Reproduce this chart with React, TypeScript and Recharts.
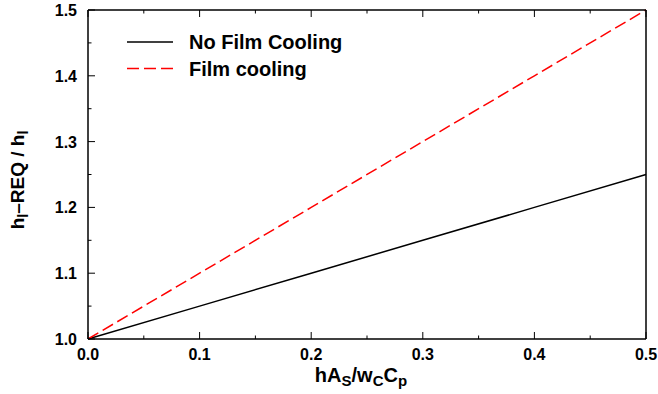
import { LineChart, Line, XAxis, YAxis } from "recharts"

const xValues = [0, 0.1, 0.2, 0.3, 0.4, 0.5]
const noFilmCooling = [1.0, 1.05, 1.1, 1.15, 1.2, 1.25]
const filmCooling = [1.0, 1.1, 1.2, 1.3, 1.4, 1.5]
const xTicks = [0, 0.05, 0.1, 0.15, 0.2, 0.25, 0.3, 0.35, 0.4, 0.45, 0.5]
const yTicks = [1.0, 1.05, 1.1, 1.15, 1.2, 1.25, 1.3, 1.35, 1.4, 1.45, 1.5]

const data = xValues.map((x, i) => ({ x, noFilm: noFilmCooling[i], film: filmCooling[i] }))

const FONT = "'Liberation Sans', Arial, sans-serif"

const isMajor = (v: number) => Math.abs(v * 10 - Math.round(v * 10)) < 1e-6

function XTick({ x, y, payload, side }: any) {
  const major = isMajor(payload.value)
  const len = major ? 7 : 3.5
  const dir = side === "top" ? 1 : -1
  return (
    <g>
      <line x1={x} y1={y} x2={x} y2={y + dir * len} stroke="#000" strokeWidth={1} />
      {major && side !== "top" && (
        <text x={x} y={y + 21} textAnchor="middle" fontFamily={FONT} fontWeight="bold" fontSize={16} fill="#000">
          {payload.value.toFixed(1)}
        </text>
      )}
    </g>
  )
}

function YTick({ x, y, payload, side }: any) {
  const major = isMajor(payload.value)
  const len = major ? 7 : 3.5
  const dir = side === "right" ? -1 : 1
  return (
    <g>
      <line x1={x} y1={y} x2={x + dir * len} y2={y} stroke="#000" strokeWidth={1} />
      {major && side !== "right" && (
        <text x={x - 11} y={y + 6} textAnchor="end" fontFamily={FONT} fontWeight="bold" fontSize={16} fill="#000">
          {payload.value.toFixed(1)}
        </text>
      )}
    </g>
  )
}

function LegendBox() {
  return (
    <svg width={260} height={60} style={{ position: "absolute", left: 120, top: 30 }}>
      <line x1={7} y1={12} x2={53} y2={12} stroke="#000" strokeWidth={1.5} />
      <text x={69} y={19} fontFamily={FONT} fontWeight="bold" fontSize={20} fill="#000">No Film Cooling</text>
      <line x1={7} y1={38.5} x2={53} y2={38.5} stroke="#ff0000" strokeWidth={1.5} strokeDasharray="12 5" />
      <text x={69} y={46} fontFamily={FONT} fontWeight="bold" fontSize={20} fill="#000">Film cooling</text>
    </svg>
  )
}

const axisLine = { stroke: "#000", strokeWidth: 1.5 }

export default function App() {
  return (
    <div style={{ position: "absolute", left: 0, top: 0, width: 658, height: 394, background: "#fff" }}>
      <LineChart width={658} height={394} data={data} margin={{ top: 9, right: 11, bottom: 54, left: 87 }}>
        <XAxis
          xAxisId="b"
          type="number"
          dataKey="x"
          domain={[0, 0.5]}
          ticks={xTicks}
          interval={0}
          height={1}
          tickSize={0}
          tickMargin={0}
          tickLine={false}
          axisLine={axisLine}
          tick={<XTick side="bottom" />}
          label={{
            content: () => (
              <text x={361} y={382} textAnchor="middle" fontFamily={FONT} fontWeight="bold" fontSize={20} fill="#000">
                hA<tspan dy={4} fontSize={15}>S</tspan>
                <tspan dy={-4}>/w</tspan>
                <tspan dy={4} fontSize={15}>C</tspan>
                <tspan dy={-4}>C</tspan>
                <tspan dy={4} fontSize={15}>p</tspan>
              </text>
            ),
          }}
        />
        <XAxis
          xAxisId="t"
          orientation="top"
          type="number"
          dataKey="x"
          domain={[0, 0.5]}
          ticks={xTicks}
          interval={0}
          height={1}
          tickSize={0}
          tickMargin={0}
          tickLine={false}
          axisLine={axisLine}
          tick={<XTick side="top" />}
        />
        <YAxis
          yAxisId="l"
          type="number"
          domain={[1, 1.5]}
          ticks={yTicks}
          interval={0}
          width={1}
          tickSize={0}
          tickMargin={0}
          tickLine={false}
          axisLine={axisLine}
          tick={<YTick side="left" />}
          label={{
            content: () => (
              <text
                x={0}
                y={0}
                transform="translate(24,180) rotate(-90)"
                textAnchor="middle"
                fontFamily={FONT}
                fontWeight="bold"
                fontSize={19}
                fill="#000"
              >
                h<tspan dy={4} fontSize={14}>l</tspan>
                <tspan dy={-4}>–REQ / h</tspan>
                <tspan dy={4} fontSize={14}>l</tspan>
              </text>
            ),
          }}
        />
        <YAxis
          yAxisId="r"
          orientation="right"
          type="number"
          domain={[1, 1.5]}
          ticks={yTicks}
          interval={0}
          width={1}
          tickSize={0}
          tickMargin={0}
          tickLine={false}
          axisLine={axisLine}
          tick={<YTick side="right" />}
        />
        <Line
          xAxisId="b"
          yAxisId="l"
          type="linear"
          dataKey="noFilm"
          stroke="#000"
          strokeWidth={1.5}
          dot={false}
          isAnimationActive={false}
        />
        <Line
          xAxisId="b"
          yAxisId="l"
          type="linear"
          dataKey="film"
          stroke="#ff0000"
          strokeWidth={1.5}
          strokeDasharray="12 5"
          dot={false}
          isAnimationActive={false}
        />
      </LineChart>
      <LegendBox />
    </div>
  )
}
